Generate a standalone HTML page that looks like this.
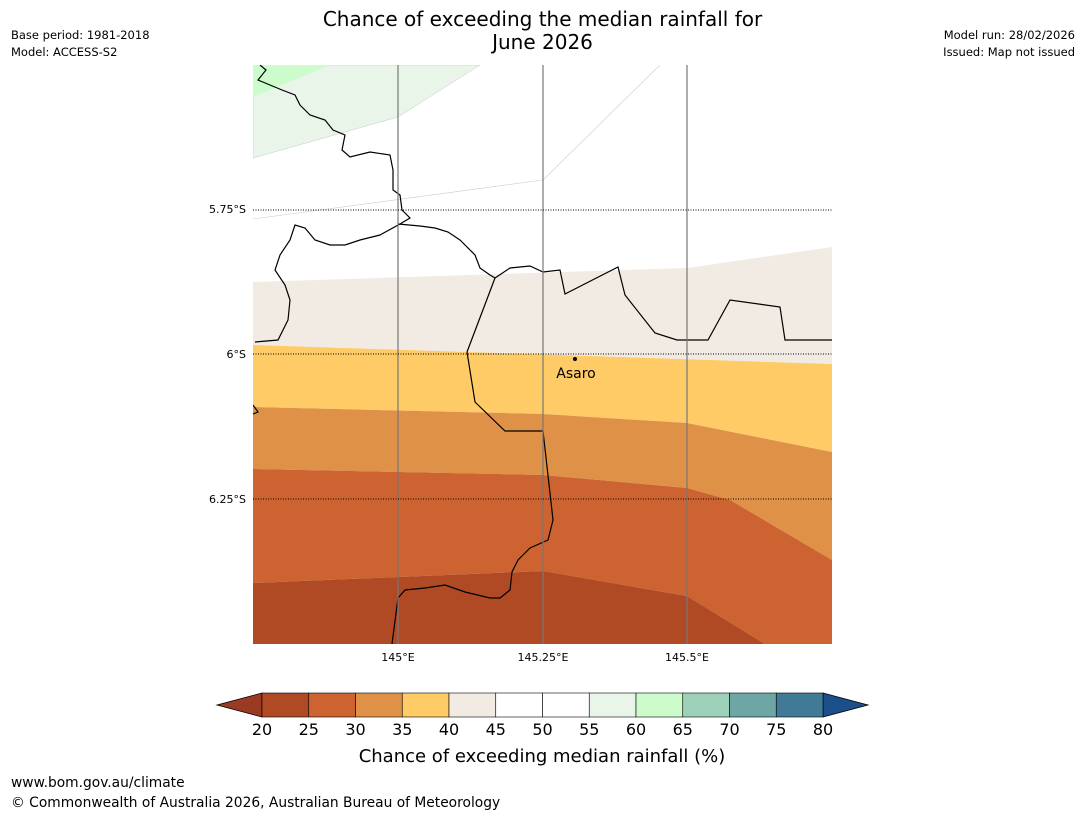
<!DOCTYPE html>
<html><head><meta charset="utf-8"><style>
body{margin:0;background:#fff;font-family:"DejaVu Sans","Liberation Sans",sans-serif;}
#root{position:relative;width:1085px;height:816px;overflow:hidden;}
.t{position:absolute;font-size:11.5px;color:#000;white-space:nowrap;}
</style></head><body>
<div id="root">
<div class="t" style="left:0;width:1085px;top:8px;text-align:center;font-size:20px;line-height:23px">Chance of exceeding the median rainfall for<br>June 2026</div>
<div class="t" style="left:11px;top:27px;line-height:17px">Base period: 1981-2018<br>Model: ACCESS-S2</div>
<div class="t" style="right:10px;top:27px;line-height:17px;text-align:right">Model run: 28/02/2026<br>Issued: Map not issued</div>
<div class="t" style="left:11px;top:775px;font-size:13.8px">www.bom.gov.au/climate</div>
<div class="t" style="left:11px;top:795px;font-size:13.8px">© Commonwealth of Australia 2026, Australian Bureau of Meteorology</div>
<svg id="svg" width="1085" height="816" style="position:absolute;left:0;top:0">
<defs><clipPath id="mc"><rect x="253" y="65" width="579" height="579"/></clipPath></defs>
<g clip-path="url(#mc)">
<rect x="253" y="65" width="579" height="579" fill="#fff"/>
<polygon points="253,65 480,65 398,117 253,158" fill="#eaf5ea" stroke="#bbb" stroke-width="0.4"/>
<polygon points="253,65 330,65 253,97" fill="#ccfccc"/>
<polyline points="253,219 543,180 660,65" fill="none" stroke="#ccc" stroke-width="0.6"/>
<polygon points="253,282 687,268 832,247 832,364 467,352 253,345" fill="#f1ebe4"/>
<polygon points="253,345 467,352 832,364 832,452 687,423 543,414 253,407" fill="#fecb66"/>
<polygon points="253,407 543,414 687,423 832,452 832,560 730,500 687,488 543,475 253,469" fill="#e09148"/>
<polygon points="253,469 543,475 687,488 730,500 832,560 832,644 765,644 687,596 543,571 253,583" fill="#cc6331"/>
<polygon points="253,583 543,571 687,596 765,644 253,644" fill="#b04a25"/>
<g stroke="#000" stroke-width="1.2" fill="none">
<polyline points="260,65 266,70 258,80 270,85 282,90 295,95 300,105 310,115 325,120 333,130 345,135 342,150 350,157 370,152 390,155 393,170 393,190 400,195 402,210 410,218 400,224 380,235 360,240 345,245 330,245 315,240 305,228 295,225 290,240 280,255 275,270 285,285 290,300 288,320 278,340 255,342"/>
<polyline points="398,224 420,226 435,228 448,232 460,240 475,255 480,268 490,275 495,278"/>
<polyline points="495,278 510,268 530,266 543,272 560,270 565,294 618,267 625,295 655,333 677,340 708,340 730,300 780,307 785,340 832,340"/>
<polyline points="495,278 467,352 475,402 505,431 543,431 553,520 548,540 530,548 518,560 512,572 510,590 500,598 490,598 465,592 445,585 425,588 405,590 398,598 392,644"/>
<polyline points="253,405 258,412 253,414"/>
</g>
<g stroke="#777" stroke-width="1.2">
<line x1="398" y1="65" x2="398" y2="644"/><line x1="543" y1="65" x2="543" y2="644"/><line x1="687" y1="65" x2="687" y2="644"/>
</g>
<g stroke="#000" stroke-width="1" stroke-dasharray="1,1.5">
<line x1="253" y1="210" x2="832" y2="210"/><line x1="253" y1="354" x2="832" y2="354"/><line x1="253" y1="499" x2="832" y2="499"/>
</g>
<circle cx="575" cy="359" r="2" fill="#000"/>
</g>
<text x="576" y="378" font-size="14" text-anchor="middle" font-family="DejaVu Sans, sans-serif">Asaro</text>
<g font-size="11" font-family="DejaVu Sans, sans-serif">
<text x="246" y="213" text-anchor="end">5.75°S</text>
<text x="246" y="358" text-anchor="end">6°S</text>
<text x="246" y="503" text-anchor="end">6.25°S</text>
<text x="398" y="661" text-anchor="middle">145°E</text>
<text x="543" y="661" text-anchor="middle">145.25°E</text>
<text x="687" y="661" text-anchor="middle">145.5°E</text>
</g>
<g id="cbar"></g>
<text x="542" y="762" font-size="18" text-anchor="middle" font-family="DejaVu Sans, sans-serif">Chance of exceeding median rainfall (%)</text>
</svg>
</div>
<script>
const levels=[20,25,30,35,40,45,50,55,60,65,70,75,80];
const colors=["#b04a25","#cc6331","#e09148","#fecb66","#f1ebe4","#ffffff","#ffffff","#eaf5ea","#ccfccc","#9dd0b8","#6ea6a6","#417a97"];
const underColor="#9a3a22",overColor="#1b4f8a";
const NS="http://www.w3.org/2000/svg";
const g=document.getElementById('cbar');
const x0=262,x1=823,y0=693,y1=717;
const xs=v=>x0+(v-levels[0])/(levels[levels.length-1]-levels[0])*(x1-x0);
function mk(t,a){const e=document.createElementNS(NS,t);for(const k in a)e.setAttribute(k,a[k]);g.appendChild(e);return e;}
let e=mk('polygon',{points:`${x0},${y0} ${x0-45},${(y0+y1)/2} ${x0},${y1}`,fill:underColor,stroke:'#000','stroke-width':0.8});


e=mk('polygon',{points:`${x1},${y0} ${x1+45},${(y0+y1)/2} ${x1},${y1}`,fill:overColor,stroke:'#000','stroke-width':0.8});


colors.forEach((c,i)=>{
 const r=mk('rect',{x:xs(levels[i]),y:y0,width:xs(levels[i+1])-xs(levels[i]),height:y1-y0,fill:c,stroke:'#000','stroke-width':0.6});
 
 
});
levels.forEach(v=>{
 const t=mk('text',{x:xs(v),y:735,'font-size':16,'text-anchor':'middle','font-family':'DejaVu Sans, sans-serif'});
 t.textContent=v;
 
 
});
</script>
</body></html>
